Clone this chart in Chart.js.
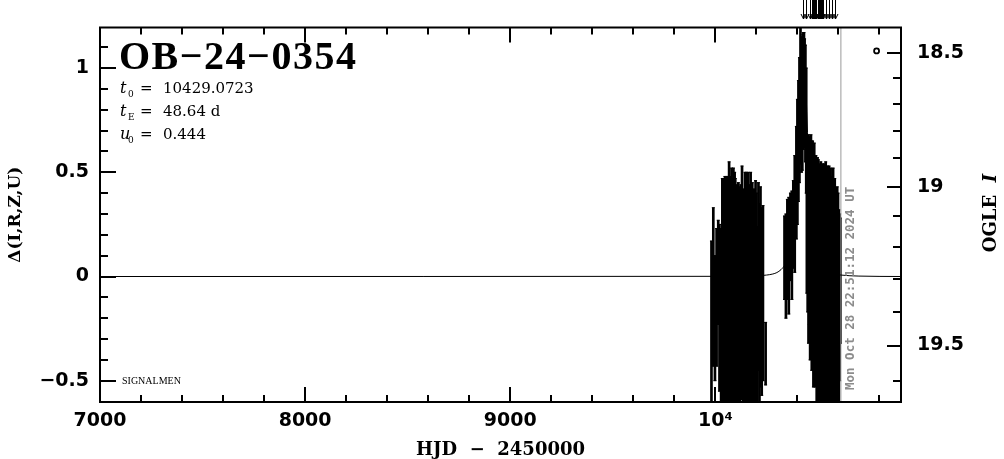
<!DOCTYPE html>
<html>
<head>
<meta charset="utf-8">
<script src="https://cdn.jsdelivr.net/npm/chart.js@4"></script>
<style>
html, body { margin: 0; padding: 0; background: #fff; }
canvas { display: block; }
</style>
</head>
<body>
<canvas id="lc" width="1004" height="459"></canvas>
<script>
// axes
const xMin = 7000, xMax = 10905;
const yMin = -0.602, yMax = 1.195;
const xTickValues = [7000, 8000, 9000, 10000];
const xTickLabels = ['7000', '8000', '9000', '10⁴'];
const leftTickValues = [-0.5, 0, 0.5, 1];
const leftTickLabels = ['−0.5', '0', '0.5', '1'];
const magTickValues = [18.5, 19, 19.5];
const magTickLabels = ['18.5', '19', '19.5'];
const magMinorTicks = [18.5, 18.6, 18.7, 18.8, 18.9, 19.0, 19.1, 19.2, 19.3, 19.4, 19.5, 19.6];

// 2023 season
const s1T = [9981, 9990, 9998, 10006, 10014, 10020, 10028, 10034, 10038, 10041,
  10044, 10047, 10049, 10052, 10055, 10058, 10061, 10064, 10067, 10070,
  10073, 10076, 10079, 10082, 10085, 10088, 10091, 10094, 10097, 10100,
  10103, 10106, 10109, 10112, 10115, 10118, 10121, 10124, 10127, 10130,
  10133, 10136, 10139, 10142, 10145, 10148, 10151, 10154, 10157, 10160,
  10164, 10168, 10172, 10176, 10180, 10184, 10188, 10192, 10196, 10200,
  10205, 10210, 10215, 10220, 10226, 10232, 10245];
const s1D = [-0.25, -0.05, -0.20, -0.10, 0.02, -0.15, -0.22, 0.05, -0.12, 0.02,
  -0.15, 0.08, -0.20, -0.05, 0.10, -0.18, 0.00, -0.10, 0.05, -0.22,
  0.03, -0.12, 0.10, -0.08, -0.20, 0.02, -0.15, 0.06, -0.05, -0.18,
  0.04, -0.10, -0.25, 0.00, -0.12, 0.05, -0.20, -0.02, -0.15, 0.03,
  -0.08, -0.22, 0.00, -0.12, -0.05, -0.18, 0.02, -0.10, -0.25, 0.05,
  -0.08, -0.15, 0.00, -0.20, 0.02, -0.12, -0.05, -0.18, 0.04, -0.10,
  -0.22, 0.00, -0.15, -0.05, -0.12, -0.08, -0.37];
const s1E = [0.42, 0.38, 0.30, 0.33, 0.25, 0.40, 0.45, 0.42, 0.50, 0.45,
  0.50, 0.40, 0.48, 0.52, 0.38, 0.45, 0.48, 0.55, 0.50, 0.42,
  0.45, 0.50, 0.42, 0.55, 0.45, 0.50, 0.48, 0.44, 0.52, 0.50,
  0.40, 0.46, 0.48, 0.45, 0.52, 0.38, 0.50, 0.46, 0.44, 0.50,
  0.48, 0.45, 0.42, 0.50, 0.55, 0.46, 0.48, 0.44, 0.50, 0.45,
  0.52, 0.47, 0.50, 0.48, 0.43, 0.50, 0.47, 0.45, 0.42, 0.50,
  0.46, 0.45, 0.50, 0.48, 0.45, 0.42, 0.15];

// 2024 season, rise and peak
const s2T = [10337, 10344, 10351, 10358, 10366, 10373, 10380, 10387, 10395, 10400,
  10405, 10410, 10415, 10420, 10424, 10427, 10429, 10432, 10435, 10439, 10443];
const s2D = [0.09, 0.05, 0.13, 0.10, 0.19, 0.15, 0.25, 0.30, 0.45, 0.55,
  0.65, 0.75, 0.87, 0.80, 0.83, 0.92, 0.89, 0.95, 0.88, 0.83, 0.70];
const s2E = [0.20, 0.25, 0.24, 0.28, 0.21, 0.26, 0.21, 0.28, 0.27, 0.30,
  0.29, 0.30, 0.33, 0.30, 0.32, 0.24, 0.28, 0.22, 0.26, 0.28, 0.30];

// 2024 season, decline
const s3T = [10446, 10450, 10454, 10458, 10462, 10466, 10470, 10474, 10478, 10482,
  10486, 10490, 10494, 10498, 10502, 10506, 10510, 10514, 10518, 10522,
  10526, 10530, 10534, 10538, 10542, 10546, 10550, 10554, 10558, 10562,
  10566, 10570, 10574, 10578, 10582, 10586, 10590, 10594, 10598, 10602,
  10606, 10610];
const s3D = [0.30, 0.25, 0.18, 0.22, 0.12, 0.20, 0.10, 0.15, 0.05, 0.12,
  0.02, 0.08, -0.05, 0.05, -0.02, 0.06, -0.08, 0.00, -0.10, 0.04,
  -0.06, 0.02, -0.12, 0.00, -0.08, 0.03, -0.10, -0.02, -0.12, 0.00,
  -0.08, -0.15, -0.02, -0.10, -0.05, -0.15, -0.08, -0.12, -0.05, -0.18,
  -0.10, -0.02];
const s3E = [0.38, 0.42, 0.50, 0.45, 0.52, 0.48, 0.55, 0.50, 0.58, 0.52,
  0.55, 0.50, 0.60, 0.52, 0.58, 0.48, 0.60, 0.55, 0.62, 0.50,
  0.58, 0.52, 0.60, 0.55, 0.58, 0.50, 0.60, 0.55, 0.58, 0.52,
  0.56, 0.60, 0.54, 0.55, 0.52, 0.55, 0.50, 0.55, 0.45, 0.50,
  0.40, 0.30];

// points above the top edge (drawn as arrows)
const offScaleT = [10429, 10444, 10459, 10473, 10478, 10483, 10488, 10493, 10498, 10502,
  10507, 10512, 10517, 10522, 10527, 10541, 10556, 10571, 10585];

// PSPL model
const modelT = [7000, 10150, 10200, 10250, 10280, 10300, 10320, 10340, 10360, 10380,
  10400, 10410, 10420, 10429, 10438, 10448, 10458, 10478, 10498, 10518,
  10538, 10558, 10578, 10612, 10700, 10905];
const modelD = [0, 0.001, 0.003, 0.007, 0.012, 0.019, 0.033, 0.058, 0.109, 0.222,
  0.488, 0.722, 1.0, 1.13, 1.0, 0.722, 0.488, 0.222, 0.109, 0.058,
  0.033, 0.019, 0.012, 0.007, 0.002, 0];

const nowT = 10612;
const markT = [10786];
const markD = [1.082];

// right axis: OGLE I mag -> delta position
const magToDelta = m => 4.44 - 3.37 * Math.pow(10, 0.151 * (m - 18.5));

const obsT = s1T.concat(s2T, s3T);
const obsD = s1D.concat(s2D, s3D);
const obsE = s1E.concat(s2E, s3E);

const bars = obsT.map((t, i) => ({x: t, y: [obsD[i] - obsE[i], obsD[i] + obsE[i]]}));
const caps = [];
obsT.forEach((t, i) => {
  caps.push({x: t, y: obsD[i] - obsE[i]});
  caps.push({x: t, y: obsD[i] + obsE[i]});
});

const pgplotFrame = {
  id: 'pgplotFrame',
  afterDraw(chart) {
    const {ctx, chartArea: a} = chart;
    const xs = chart.scales.x, ys = chart.scales.y;
    ctx.save();
    ctx.strokeStyle = '#000';
    ctx.lineWidth = 2;
    ctx.beginPath();
    ctx.rect(a.left, a.top, a.right - a.left, a.bottom - a.top);
    for (let v = 7000; v <= 10800; v += 200) {
      const px = Math.round(xs.getPixelForValue(v));
      const len = v % 1000 === 0 ? 15 : 7;
      ctx.moveTo(px, a.bottom); ctx.lineTo(px, a.bottom - len);
      ctx.moveTo(px, a.top); ctx.lineTo(px, a.top + len);
    }
    for (let i = -6; i <= 11; i++) {
      const py = Math.round(ys.getPixelForValue(i / 10));
      const len = i % 5 === 0 ? 16 : 8;
      ctx.moveTo(a.left, py); ctx.lineTo(a.left + len, py);
    }
    magMinorTicks.forEach(m => {
      const py = Math.round(ys.getPixelForValue(magToDelta(m)));
      const len = magTickValues.includes(m) ? 14 : 8;
      ctx.moveTo(a.right, py); ctx.lineTo(a.right - len, py);
    });
    ctx.stroke();

    // off-scale arrows
    ctx.lineWidth = 1;
    ctx.beginPath();
    offScaleT.forEach(t => {
      const px = Math.round(xs.getPixelForValue(t)) + 0.5;
      ctx.moveTo(px, 0); ctx.lineTo(px, 19);
      ctx.moveTo(px - 2.5, 14); ctx.lineTo(px, 19); ctx.lineTo(px + 2.5, 14);
    });
    ctx.stroke();

    ctx.fillStyle = '#000';
    ctx.textBaseline = 'alphabetic';
    ctx.textAlign = 'left';
    ctx.font = 'bold 40px "Liberation Serif"';
    ctx.letterSpacing = '1.5px';
    ctx.fillText('OB−24−0354', 119, 69);
    ctx.letterSpacing = '0px';

    const params = [['t', '0', '10429.0723', 93], ['t', 'E', '48.64 d', 116], ['u', '0', '0.444', 139]];
    params.forEach(([sym, sub, val, y]) => {
      ctx.font = 'italic 16px "DejaVu Serif"';
      ctx.fillText(sym, 120, y);
      ctx.font = '9px "DejaVu Serif"';
      ctx.fillText(sub, 128, y + 4);
      ctx.font = '15px "DejaVu Serif"';
      ctx.fillText('=', 140, y);
      ctx.fillText(val, 163, y);
    });

    ctx.font = '10px "Liberation Serif"';
    ctx.fillText('SIGNALMEN', 122, 384);

    // timestamp along the "now" line
    ctx.save();
    ctx.translate(854, 390);
    ctx.rotate(-Math.PI / 2);
    ctx.fillStyle = '#8c8c8c';
    ctx.font = 'bold 12.5px "DejaVu Sans Mono"';
    ctx.fillText('Mon Oct 28 22:51:12 2024 UT', 0, 0);
    ctx.restore();

    // right axis title
    ctx.save();
    ctx.translate(996, 213);
    ctx.rotate(-Math.PI / 2);
    ctx.font = 'bold 18px "DejaVu Serif"';
    const w1 = ctx.measureText('OGLE  ').width;
    ctx.font = 'bold italic 18px "DejaVu Serif"';
    const w2 = ctx.measureText('I').width;
    const x0 = -(w1 + w2) / 2;
    ctx.font = 'bold 18px "DejaVu Serif"';
    ctx.fillText('OGLE  ', x0, 0);
    ctx.font = 'bold italic 18px "DejaVu Serif"';
    ctx.fillText('I', x0 + w1, 0);
    ctx.restore();

    ctx.restore();
  }
};

const tickFont = {family: 'DejaVu Sans', size: 19, weight: 'bold'};

new Chart(document.getElementById('lc'), {
  type: 'bar',
  data: {
    datasets: [
      {
        type: 'line',
        data: modelT.map((t, i) => ({x: t, y: modelD[i]})),
        borderColor: '#000',
        borderWidth: 1,
        pointRadius: 0,
        cubicInterpolationMode: 'monotone'
      },
      {
        type: 'line',
        data: [{x: nowT, y: yMin}, {x: nowT, y: yMax}],
        borderColor: '#9a9a9a',
        borderWidth: 1,
        pointRadius: 0
      },
      {
        data: bars,
        backgroundColor: '#000',
        barThickness: 2
      },
      {
        type: 'scatter',
        data: caps,
        pointStyle: 'line',
        pointRadius: 1.5,
        borderColor: '#000',
        borderWidth: 1
      },
      {
        type: 'scatter',
        data: markT.map((t, i) => ({x: t, y: markD[i]})),
        pointRadius: 2.5,
        borderWidth: 1.8,
        borderColor: '#000',
        backgroundColor: '#fff'
      }
    ]
  },
  options: {
    responsive: false,
    animation: false,
    devicePixelRatio: 1,
    layout: {padding: {top: 26, left: 0, right: 0, bottom: 0}},
    plugins: {legend: {display: false}, tooltip: {enabled: false}},
    scales: {
      x: {
        type: 'linear',
        min: xMin,
        max: xMax,
        offset: false,
        grid: {display: false, drawTicks: false},
        border: {display: false},
        afterBuildTicks: s => { s.ticks = xTickValues.map(v => ({value: v})); },
        afterFit: s => { s.height = 57; },
        ticks: {
          autoSkip: false,
          maxRotation: 0,
          padding: 8,
          color: '#000',
          font: tickFont,
          callback: (v, i) => xTickLabels[i]
        },
        title: {
          display: true,
          text: 'HJD  −  2450000',
          color: '#000',
          font: {family: 'DejaVu Serif', size: 18, weight: 'bold', lineHeight: 1},
          padding: {top: 0, bottom: 0}
        }
      },
      y: {
        type: 'linear',
        position: 'left',
        min: yMin,
        max: yMax,
        grid: {display: false, drawTicks: false},
        border: {display: false},
        afterBuildTicks: s => { s.ticks = leftTickValues.map(v => ({value: v})); },
        afterFit: s => { s.width = 100; },
        ticks: {
          autoSkip: false,
          padding: 11,
          color: '#000',
          font: tickFont,
          callback: (v, i) => leftTickLabels[i]
        },
        title: {
          display: true,
          text: 'Δ(I,R,Z,U)',
          color: '#000',
          font: {family: 'DejaVu Serif', size: 17, weight: 'bold'},
          padding: {top: 5, bottom: 0}
        }
      },
      y2: {
        type: 'linear',
        position: 'right',
        min: yMin,
        max: yMax,
        grid: {display: false, drawTicks: false},
        border: {display: false},
        afterBuildTicks: s => { s.ticks = magTickValues.map(m => ({value: magToDelta(m)})); },
        afterFit: s => { s.width = 103; },
        ticks: {
          autoSkip: false,
          padding: 16,
          color: '#000',
          font: tickFont,
          callback: (v, i) => magTickLabels[i]
        }
      }
    }
  },
  plugins: [pgplotFrame]
});
</script>
</body>
</html>
